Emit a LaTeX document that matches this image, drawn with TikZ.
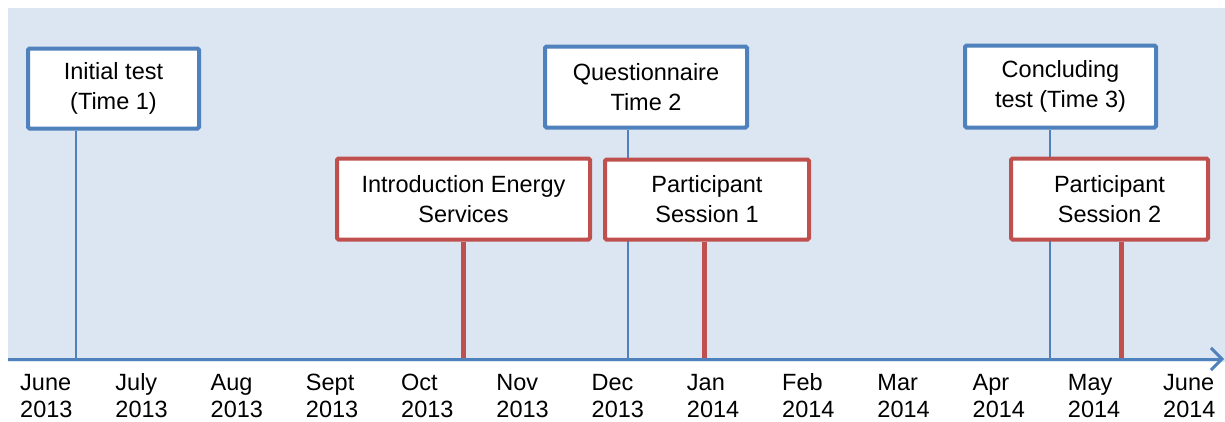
\documentclass[tikz,border=0pt]{standalone}
\usepackage{fontspec}
\setmainfont{Liberation Sans}
\usetikzlibrary{arrows.meta}
\definecolor{bgblue}{HTML}{DCE6F2}
\definecolor{lineblue}{HTML}{4F81BD}
\definecolor{linered}{HTML}{C0504D}
\pgfdeclarelayer{bglayer}
\pgfdeclarelayer{midlayer}
\pgfsetlayers{bglayer,midlayer,main}
\tikzset{
  evbox/.style={draw, fill=white, line width=4pt, rounded corners=1.5pt, align=center,
    inner sep=0pt, font=\fontsize{23.5}{30}\selectfont},
  bluebox/.style={evbox, draw=lineblue},
  redbox/.style={evbox, draw=linered},
  blueline/.style={draw=lineblue, line width=2pt},
  redline/.style={draw=linered, line width=5pt},
  monthlbl/.style={anchor=north west, align=left, inner sep=0pt, font=\fontsize{23.5}{27}\selectfont},
  axisline/.style={draw=lineblue, line width=3pt, -{Straight Barb[length=11pt,width=22pt,line width=3pt]}}
}
\begin{document}
\begin{tikzpicture}[x=1pt,y=-1pt]
\useasboundingbox (0,0) rectangle (1225,421);
% nodes
\node[bluebox, minimum width=171pt, minimum height=80pt] (init) at (113.5,88.5) {Initial test\\(Time 1)};
\node[bluebox, minimum width=202pt, minimum height=81pt] (quest) at (646,87) {Questionnaire\\Time 2};
\node[bluebox, minimum width=191pt, minimum height=82pt] (concl) at (1060.5,86.5) {Concluding\\test (Time 3)};
\node[redbox, minimum width=253pt, minimum height=81pt] (intro) at (463.5,199) {Introduction Energy\\Services};
\node[redbox, minimum width=204pt, minimum height=80pt] (ps1) at (707,199.5) {Participant\\Session 1};
\node[redbox, minimum width=197pt, minimum height=81pt] (ps2) at (1109.5,199) {Participant\\Session 2};
% axis coordinates
\coordinate (axL) at (8,359);
\coordinate (axR) at (1224,359);
\coordinate (t1) at (76,359);
\coordinate (t2) at (628,359);
\coordinate (t3) at (1050,359);
\coordinate (r1) at (463,359);
\coordinate (r2) at (704,359);
\coordinate (r3) at (1121,359);
\begin{pgfonlayer}{bglayer}
\fill[bgblue] (8,8) rectangle (1225,362);
\end{pgfonlayer}
\begin{pgfonlayer}{midlayer}
\draw[blueline] (t1) -- (t1 |- init.south);
\draw[blueline] (t2) -- (t2 |- quest.south);
\draw[blueline] (t3) -- (t3 |- concl.south);
\draw[redline] (r1) -- (r1 |- intro.south);
\draw[redline] (r2) -- (r2 |- ps1.south);
\draw[redline] (r3) -- (r3 |- ps2.south);
\draw[axisline] (axL) -- (axR);
\end{pgfonlayer}
% month labels
\foreach \m/\y [count=\i from 0] in {June/2013,July/2013,Aug/2013,Sept/2013,Oct/2013,Nov/2013,Dec/2013,Jan/2014,Feb/2014,Mar/2014,Apr/2014,May/2014,June/2014}
  \node[monthlbl] (m\i) at (20+95.25*\i, 371) {\strut\m\\\strut\y};
\end{tikzpicture}
\end{document}
